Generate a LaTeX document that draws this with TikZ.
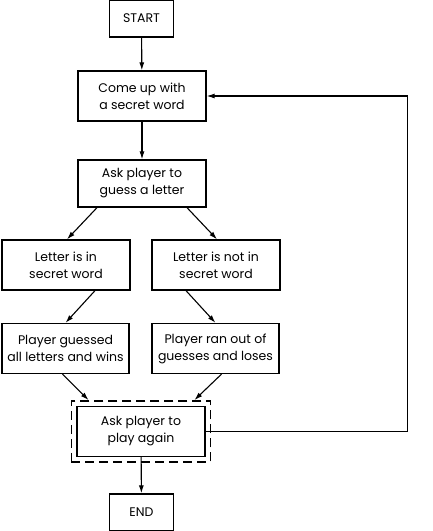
\documentclass[tikz,border=0pt]{standalone}
\usepackage{fontspec}
\setmainfont{Poppins}
\usepackage{tikz}
\usetikzlibrary{arrows.meta,positioning,calc,fit}

\tikzset{
  stepbox/.style={draw, line width=1.3pt, minimum width=128pt, minimum height=50pt,
    align=center, inner sep=2pt, font=\fontsize{12.5}{17}\selectfont},
  endbox/.style={stepbox, minimum width=64pt, minimum height=37pt},
  frame/.style={draw, line width=1.5pt, dash pattern=on 9pt off 5pt, inner sep=5pt},
  arr/.style={-{Latex[length=8pt,width=5pt]}, line width=1.1pt}
}

\begin{document}
\begin{tikzpicture}[x=1pt, y=-1pt]
  \useasboundingbox (0,0) rectangle (432,531);
  % Boxes (pixel coordinates, y grows downwards)
  \node[endbox]  (start)    at (141.5,18.5) {START};
  \node[stepbox] (secret)   at (142,96)   {Come up with\\a secret word};
  \node[stepbox, minimum height=47pt] (ask) at (142,183.5) {Ask player to\\guess a letter};
  \node[stepbox] (letterin) at (66,265)   {Letter is in\\secret word};
  \node[stepbox] (notin)    at (216,265)  {Letter is not in\\secret word};
  \node[stepbox, minimum width=127pt] (wins)  at (65.5,348.5)  {Player guessed\\all letters and wins};
  \node[stepbox, minimum width=127pt] (loses) at (215.5,348.5) {Player ran out of\\guesses and loses};
  \node[stepbox] (again)    at (141,431.5) {Ask player to\\play again};
  \node[frame, fit=(again)] (againframe) {};
  \node[endbox]  (end)      at (141.5,512.5) {END};
  % Arrows
  \draw[arr] (start) -- (secret);
  \draw[arr] (secret) -- (ask);
  \draw[arr] ([xshift=-45pt]ask.south) -- ([xshift=1pt]letterin.north);
  \draw[arr] ([xshift=45pt]ask.south) -- ([xshift=1pt]notin.north);
  \draw[arr] ([xshift=29pt]letterin.south) -- (wins.north);
  \draw[arr] ([xshift=-30pt]notin.south) -- (loses.north);
  \draw[arr] ([xshift=-3pt]wins.south) -- ([xshift=18pt]againframe.north west);
  \draw[arr] ([xshift=6pt]loses.south) -- ([xshift=-17pt]againframe.north east);
  \draw[arr] (again) -- (end);
  % Loop back
  \coordinate (loop) at (407.5,96);
  \draw[arr] (again.east) -| (loop) -- (secret.east);
\end{tikzpicture}
\end{document}
